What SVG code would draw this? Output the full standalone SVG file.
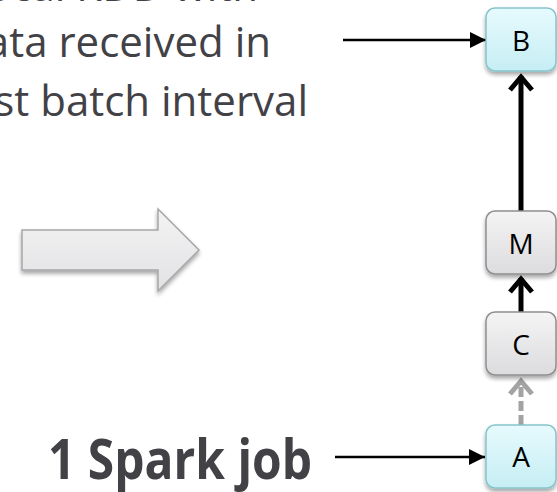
<svg xmlns="http://www.w3.org/2000/svg" width="557" height="492" viewBox="0 0 557 492">
  <defs>
    <linearGradient id="gBlue" x1="0" y1="0" x2="0" y2="1">
      <stop offset="0" stop-color="#E6FAFD"/>
      <stop offset="1" stop-color="#C6EEF4"/>
    </linearGradient>
    <linearGradient id="gGray" x1="0" y1="0" x2="0" y2="1">
      <stop offset="0" stop-color="#F4F4F5"/>
      <stop offset="1" stop-color="#DCDCDE"/>
    </linearGradient>
    <linearGradient id="gBig" x1="0" y1="0" x2="0" y2="1">
      <stop offset="0" stop-color="#F3F3F4"/>
      <stop offset="1" stop-color="#E2E2E4"/>
    </linearGradient>
    <filter id="shadow" x="-20%" y="-20%" width="140%" height="150%">
      <feGaussianBlur in="SourceAlpha" stdDeviation="2"/>
      <feOffset dx="0" dy="3" result="b"/>
      <feComponentTransfer><feFuncA type="linear" slope="0.35"/></feComponentTransfer>
      <feMerge><feMergeNode/><feMergeNode in="SourceGraphic"/></feMerge>
    </filter>
    <marker id="tri" viewBox="0 0 10 10" refX="10" refY="5" markerWidth="16" markerHeight="16" markerUnits="userSpaceOnUse" orient="auto">
      <path d="M0,0 L10,5 L0,10 z" fill="#000"/>
    </marker>
  </defs>
  <style>
    .caption { font-family: "Open Sans", "Liberation Sans", sans-serif; font-size: 42px; fill: #414146; }
    .big { font-family: "Open Sans", "Liberation Sans", sans-serif; font-size: 56px; font-weight: bold; fill: #414146; }
    .lbl { font-family: "Open Sans", "DejaVu Sans", sans-serif; font-size: 28px; fill: #000; text-anchor: middle; }
    .blue { fill: url(#gBlue); stroke: #86C4CC; stroke-width: 1.5; }
    .gray { fill: url(#gGray); stroke: #8E8E8E; stroke-width: 1.5; }
    .thick { stroke: #000; stroke-width: 5; fill: none; }
    .dash { stroke: #A3A3A3; stroke-width: 5; fill: none; stroke-dasharray: 10 4; }
    .chev { fill: none; stroke-width: 5; stroke-linecap: butt; stroke-linejoin: miter; }
    .thin { stroke: #000; stroke-width: 2.5; fill: none; }
  </style>

  <!-- caption text, clipped at the left and top edges -->
  <text class="caption" text-anchor="end" x="258" y="1">Local RDD with</text>
  <text class="caption" text-anchor="end" x="271" y="57">data received in</text>
  <text class="caption" text-anchor="end" x="308" y="116">last batch interval</text>

  <!-- block arrow -->
  <path d="M22,230 H158 V209 L199,250 L158,291 V270 H22 Z" fill="url(#gBig)" stroke="#A6A6A8" stroke-width="1.5" filter="url(#shadow)"/>

  <text class="big" x="48" y="479" textLength="264" lengthAdjust="spacingAndGlyphs">1 Spark job</text>

  <g id="connectors">
    <line class="thin" x1="343" y1="40" x2="486" y2="40" marker-end="url(#tri)"/>
    <line class="thin" x1="335" y1="457" x2="485" y2="457" marker-end="url(#tri)"/>
    <!-- M to B -->
    <line class="thick" x1="521" y1="211" x2="521" y2="76"/>
    <polyline class="chev" stroke="#000" points="510,90 521,77 532,90"/>
    <!-- C to M -->
    <line class="thick" x1="521" y1="312" x2="521" y2="278"/>
    <polyline class="chev" stroke="#000" points="510,292 521,279 532,292"/>
    <!-- A to C -->
    <line class="dash" x1="521" y1="425" x2="521" y2="381"/>
    <polyline class="chev" stroke="#A3A3A3" points="510,394 521,381 532,394"/>
  </g>

  <g id="B">
    <rect class="blue" x="486" y="8" width="70" height="63" rx="9" filter="url(#shadow)"/>
    <text class="lbl" x="521" y="51">B</text>
  </g>
  <g id="M">
    <rect class="gray" x="486" y="211" width="70" height="63" rx="9" filter="url(#shadow)"/>
    <text class="lbl" x="521" y="254">M</text>
  </g>
  <g id="C">
    <rect class="gray" x="486" y="312" width="70" height="63" rx="9" filter="url(#shadow)"/>
    <text class="lbl" x="521" y="355">C</text>
  </g>
  <g id="A">
    <rect class="blue" x="486" y="425" width="70" height="63" rx="9" filter="url(#shadow)"/>
    <text class="lbl" x="521" y="467">A</text>
  </g>
</svg>
